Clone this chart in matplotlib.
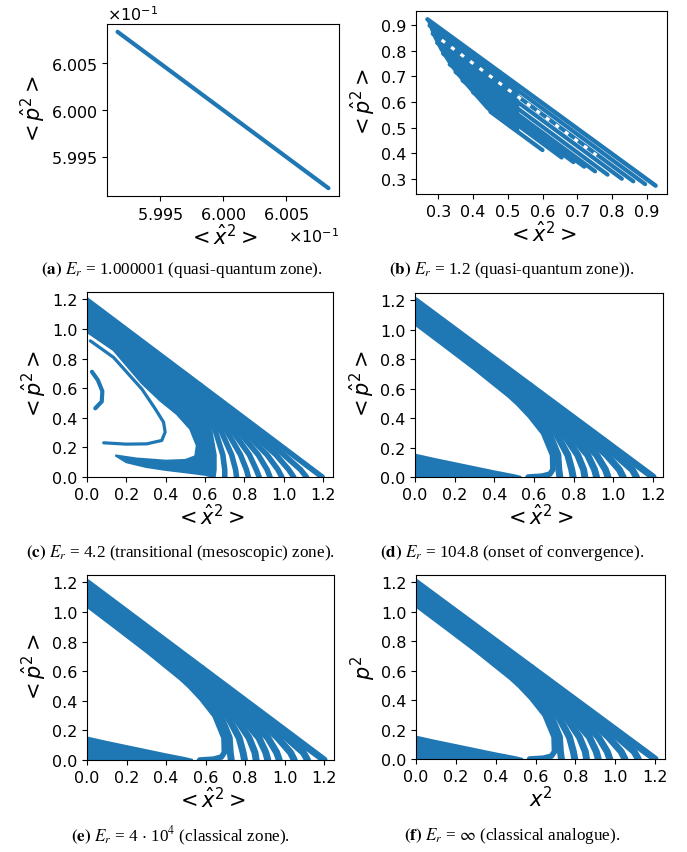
import matplotlib
matplotlib.use("Agg")
import matplotlib.pyplot as plt
from matplotlib.ticker import ScalarFormatter

blue = "#1f77b4"

# (a) E_r = 1.000001: a single short segment near x^2 + p^2 = 1.2
a_x = [0.59916, 0.60084]
a_y = [0.60084, 0.59916]
a_ticks = [0.5995, 0.6000, 0.6005]

# (b) E_r = 1.2: dense wedge plus streaks running to the lower right
b_body_x = [0.269, 0.530, 0.530, 0.5115, 0.4732, 0.4397, 0.4062, 0.3776, 0.3536, 0.3297, 0.3057, 0.2866]
b_body_y = [0.923, 0.665, 0.480, 0.4966, 0.5354, 0.5742, 0.6259, 0.6711, 0.7099, 0.7552, 0.8069, 0.8586]
b_streak_x0 = [0.450, 0.400, 0.370, 0.350, 0.333, 0.314, 0.297, 0.284, 0.275]
b_streak_y0 = [0.562, 0.638, 0.684, 0.717, 0.747, 0.789, 0.831, 0.867, 0.899]
b_streak_x1 = [0.600, 0.655, 0.689, 0.720, 0.751, 0.787, 0.828, 0.861, 0.895]
b_streak_y1 = [0.412, 0.383, 0.365, 0.347, 0.329, 0.316, 0.300, 0.290, 0.279]
b_edge_x = [0.269, 0.925]
b_edge_y = [0.923, 0.273]
b_hole_x = [0.310, 0.755]
b_hole_y = [0.842, 0.392]
b_ticks = [0.3, 0.4, 0.5, 0.6, 0.7, 0.8, 0.9]

# (c) E_r = 4.2
c_band_x = [0.0, 0.695, 0.58, 0.625, 0.645, 0.645, 0.64, 0.6, 0.5, 0.4, 0.3, 0.2, 0.144,
            0.25, 0.4, 0.5, 0.55, 0.558, 0.524, 0.456, 0.372, 0.279, 0.135, 0.0]
c_band_y = [1.195, 0.5, 0.5, 0.3, 0.15, 0.05, 0.0, 0.015, 0.032, 0.048, 0.068, 0.1, 0.146,
            0.125, 0.11, 0.115, 0.14, 0.213, 0.325, 0.426, 0.516, 0.633, 0.857, 0.98]
c_arc1_x = [0.025, 0.055, 0.078, 0.075, 0.042]
c_arc1_y = [0.711, 0.655, 0.580, 0.510, 0.464]
c_arc2_x = [0.017, 0.135, 0.279, 0.347, 0.389, 0.397, 0.380, 0.304, 0.200, 0.085]
c_arc2_y = [0.920, 0.808, 0.594, 0.460, 0.370, 0.303, 0.247, 0.224, 0.222, 0.231]
c_fan_y = [0.62, 0.5, 0.3, 0.15, 0.05, 0.0]
c_fan_x = [
    [0.500, 0.510, 0.520, 0.530, 0.540, 0.550, 0.555, 0.560, 0.568, 0.575],
    [0.580, 0.593, 0.606, 0.619, 0.632, 0.645, 0.657, 0.670, 0.682, 0.695],
    [0.625, 0.655, 0.685, 0.715, 0.745, 0.775, 0.805, 0.835, 0.865, 0.895],
    [0.645, 0.690, 0.735, 0.780, 0.825, 0.870, 0.915, 0.960, 1.000, 1.045],
    [0.645, 0.700, 0.755, 0.810, 0.860, 0.915, 0.970, 1.025, 1.085, 1.145],
    [0.640, 0.700, 0.760, 0.820, 0.875, 0.930, 0.990, 1.050, 1.115, 1.195],
]
c_top_x = [0.0, 0.575]
c_top_y = [1.195, 0.62]

# (d)-(f) E_r = 104.8, 4e4, infinity: same classical picture
d_band_x = [0.0, 0.70, 0.52, 0.478, 0.31, 0.143, 0.0]
d_band_y = [1.2, 0.5, 0.5, 0.552, 0.734, 0.905, 1.05]
d_loop_x = [0.0, 0.143, 0.31, 0.478, 0.52, 0.579, 0.647, 0.693, 0.695, 0.68, 0.64, 0.57]
d_loop_y = [1.05, 0.905, 0.734, 0.552, 0.5, 0.416, 0.3, 0.15, 0.05, 0.02, 0.006, 0.0]
d_low_x = [0.0, 0.0, 0.1, 0.2, 0.3, 0.4, 0.5, 0.535]
d_low_y = [0.0, 0.152, 0.122, 0.094, 0.066, 0.038, 0.012, 0.0]
d_fan_y = [0.62, 0.5, 0.3, 0.15, 0.05, 0.0]
d_fan_x = [
    [0.470, 0.490, 0.505, 0.520, 0.535, 0.550, 0.565, 0.580],
    [0.540, 0.565, 0.585, 0.610, 0.630, 0.655, 0.680, 0.700],
    [0.675, 0.710, 0.745, 0.775, 0.810, 0.845, 0.875, 0.900],
    [0.720, 0.770, 0.820, 0.870, 0.915, 0.965, 1.010, 1.050],
    [0.725, 0.790, 0.850, 0.905, 0.960, 1.030, 1.095, 1.150],
    [0.730, 0.797, 0.856, 0.915, 0.973, 1.049, 1.116, 1.200],
]
d_top_x = [0.0, 0.58]
d_top_y = [1.2, 0.62]
cl_ticks = [0.0, 0.2, 0.4, 0.6, 0.8, 1.0, 1.2]

captions = [
    r"$\mathbf{(a)}$ $E_r$ = 1.000001 (quasi-quantum zone).",
    r"$\mathbf{(b)}$ $E_r$ = 1.2 (quasi-quantum zone)).",
    r"$\mathbf{(c)}$ $E_r$ = 4.2 (transitional (mesoscopic) zone).",
    r"$\mathbf{(d)}$ $E_r$ = 104.8 (onset of convergence).",
    r"$\mathbf{(e)}$ $E_r$ = 4 $\cdot$ 10$^4$ (classical zone).",
    r"$\mathbf{(f)}$ $E_r$ = $\infty$ (classical analogue).",
]

W, H = 687, 853
fig = plt.figure(figsize=(W / 100, H / 100), dpi=100)


def box(l, t, r, b):
    return fig.add_axes([l / W, 1 - b / H, (r - l) / W, (b - t) / H])


tick_fs = 11.5
lab_fs = 15
xq = r"$<\hat{x}^2>$"
pq = r"$<\hat{p}^2>$"

# ---- (a)
ax = box(107, 25, 339, 197)
ax.plot(a_x, a_y, color=blue, lw=3, solid_capstyle="round")
ax.set_xticks(a_ticks)
ax.set_yticks(a_ticks)
for axis in (ax.xaxis, ax.yaxis):
    f = ScalarFormatter(useMathText=True)
    f.set_useOffset(False)
    f.set_powerlimits((-1, -1))
    axis.set_major_formatter(f)
    axis.get_offset_text().set_fontsize(tick_fs)
ax.tick_params(labelsize=tick_fs)
ax.set_xlabel(xq, fontsize=lab_fs, labelpad=1)
ax.set_ylabel(pq, fontsize=lab_fs, labelpad=2)

# ---- (b)
ax = box(416, 12, 667, 195)
ax.fill(b_body_x, b_body_y, color=blue, lw=1.5)
for x0, y0, x1, y1 in zip(b_streak_x0, b_streak_y0, b_streak_x1, b_streak_y1):
    ax.plot([x0, x1], [y0, y1], color=blue, lw=3.0, solid_capstyle="round")
ax.plot(b_edge_x, b_edge_y, color=blue, lw=3.2, solid_capstyle="round")
ax.plot(b_hole_x, b_hole_y, color="white", lw=2.3, dashes=(1.3, 2.4))
ax.set_xticks(b_ticks)
ax.set_yticks(b_ticks)
ax.tick_params(labelsize=tick_fs)
ax.set_xlabel(xq, fontsize=lab_fs, labelpad=1)
ax.set_ylabel(pq, fontsize=lab_fs, labelpad=2)


def fan(ax, fan_x, fan_y, lw):
    for k in range(len(fan_x[0])):
        ax.plot([row[k] for row in fan_x], fan_y, color=blue, lw=lw,
                solid_capstyle="round", solid_joinstyle="round")


def finish(ax, xl, yl):
    ax.set_xlim(0, 1.25)
    ax.set_ylim(0, 1.25)
    ax.set_xticks(cl_ticks)
    ax.set_yticks(cl_ticks)
    ax.tick_params(labelsize=tick_fs)
    ax.set_xlabel(xl, fontsize=lab_fs, labelpad=1)
    ax.set_ylabel(yl, fontsize=lab_fs, labelpad=2)


# ---- (c)
ax = box(87, 293, 333, 478)
ax.fill(c_band_x, c_band_y, color=blue, lw=1.5)
ax.plot(c_top_x, c_top_y, color=blue, lw=4, solid_capstyle="round")
ax.plot(c_arc1_x, c_arc1_y, color=blue, lw=3, solid_capstyle="round")
ax.plot(c_arc2_x, c_arc2_y, color=blue, lw=2.3, solid_capstyle="round")
fan(ax, c_fan_x, c_fan_y, 4)
finish(ax, xq, pq)

# ---- (d), (e), (f)
for (l, t, r, b), ylab, xlab in [((415, 294, 663, 478), pq, xq),
                                 ((87, 576, 334, 761), pq, xq),
                                 ((416, 576, 665, 760), r"$p^2$", r"$x^2$")]:
    ax = box(l, t, r, b)
    ax.fill(d_band_x, d_band_y, color=blue, lw=1.5)
    ax.fill(d_low_x, d_low_y, color=blue, lw=1.5)
    ax.plot(d_top_x, d_top_y, color=blue, lw=5, solid_capstyle="round")
    ax.plot(d_loop_x, d_loop_y, color=blue, lw=4, solid_capstyle="round",
            solid_joinstyle="round")
    fan(ax, d_fan_x, d_fan_y, 5)
    finish(ax, xlab, ylab)

# captions
for txt, (cx, cy) in zip(captions, [(182, 270), (512, 270), (180, 553),
                                    (512, 553), (181, 836), (512, 836)]):
    fig.text(cx / W, 1 - cy / H, txt, ha="center", va="center", fontsize=12.3,
             family="Liberation Serif", math_fontfamily="stix")

fig.savefig("out.png", dpi=100)
